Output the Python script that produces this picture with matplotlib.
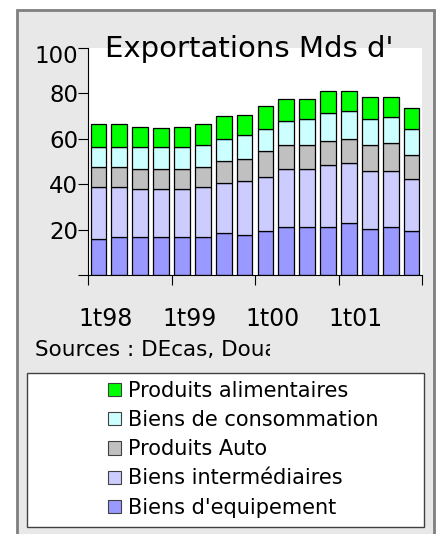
import matplotlib
matplotlib.use("Agg")
import matplotlib.pyplot as plt
from matplotlib.patches import Rectangle, Patch
from matplotlib.transforms import Bbox, TransformedBbox, ScaledTranslation
import numpy as np

quarters = [f"q{i}" for i in range(16)]
tick_labels = ["1t98", "1t99", "1t00", "1t01"]
series_names = ["Biens d'equipement", "Biens intermédiaires", "Produits Auto",
                "Biens de consommation", "Produits alimentaires"]
equipement = [15.9, 16.6, 16.6, 16.6, 16.6, 16.6, 18.4, 17.5, 19.4, 21.0, 21.0, 21.0, 22.8, 20.1, 21.0, 19.4]
intermediaires = [22.8, 22.1, 21.2, 21.2, 21.2, 22.1, 22.2, 23.8, 23.7, 25.6, 25.6, 27.5, 26.5, 25.6, 24.7, 22.8]
auto = [8.9, 8.9, 9.0, 9.0, 9.0, 8.9, 9.5, 9.7, 11.6, 10.8, 10.8, 10.6, 10.7, 11.7, 12.4, 10.7]
consommation = [8.9, 8.9, 9.7, 9.7, 9.7, 9.6, 9.8, 10.6, 9.7, 10.5, 11.3, 12.2, 12.2, 11.3, 11.6, 11.5]
alimentaires = [10.0, 10.0, 8.9, 8.2, 8.9, 9.3, 10.0, 9.1, 9.9, 9.6, 8.8, 9.9, 9.0, 9.5, 8.5, 9.1]
colors = ["#9999ff", "#ccccff", "#c0c0c0", "#ccffff", "#00ff00"]

W, H = 438, 534
fig = plt.figure(figsize=(W / 100, H / 100), dpi=100)
fig.patch.set_facecolor("white")

# outer frame
frame = Rectangle((17 / W, -0.05), (434 - 17) / W, (1 - 10 / H) + 0.05,
                  transform=fig.transFigure, facecolor="#e8e8e8",
                  edgecolor="#7f7f7f", linewidth=2, zorder=-5)
fig.patches.append(frame)

ax = fig.add_axes([88 / W, 1 - 275 / H, (422 - 88) / W, (275 - 48) / H])
ax.set_zorder(2)
ax.set_facecolor("white")

x = np.arange(len(quarters)) + 0.5
bottom = np.zeros(len(quarters))
for vals, col in zip([equipement, intermediaires, auto, consommation, alimentaires], colors):
    ax.bar(x, vals, width=0.75, bottom=bottom, color=col, edgecolor="black", linewidth=0.9)
    bottom += np.array(vals)

ax.set_xlim(0, 16)
ax.set_ylim(0, 100)
for s in ["top", "right"]:
    ax.spines[s].set_visible(False)
ax.spines["left"].set_linewidth(0.8)
ax.spines["bottom"].set_linewidth(0.8)

ax.set_yticks([0, 20, 40, 60, 80, 100])
ax.set_yticklabels(["", "20", "40", "60", "80", "100"], fontsize=16.5)
ax.tick_params(axis="y", length=7, width=0.8, pad=0)
lab100 = ax.get_yticklabels()[-1]
lab100.set_transform(lab100.get_transform() + ScaledTranslation(0, -6 / 100, fig.dpi_scale_trans))
ax.set_xticks([0, 4, 8, 12, 16])
ax.set_xticklabels([])
ax.tick_params(axis="x", which="major", length=7, width=0.8)
ax.set_xticks([0.85, 4.85, 8.85, 12.8], minor=True)
ax.set_xticklabels(tick_labels, minor=True, fontsize=17)
ax.tick_params(axis="x", which="minor", length=0, pad=23)

t = fig.text(105 / W, 1 - 57 / H, "Exportations Mds d'", fontsize=21, va="baseline", ha="left")
t.set_zorder(10)

src = fig.text(35 / W, 1 - 350 / H, "Sources : DEcas, Douanes", fontsize=15.5, va="center", ha="left")
src.set_clip_box(TransformedBbox(Bbox([[0, 0], [270 / W, 1]]), fig.transFigure))
src.set_clip_on(True)

# legend box
lbox = Rectangle((27 / W, 1 - 527 / H), (424 - 27) / W, (527 - 373) / H,
                 transform=fig.transFigure, facecolor="white",
                 edgecolor="#404040", linewidth=1, zorder=1)
fig.patches.append(lbox)
handles = [Patch(facecolor=c, edgecolor="#404040", linewidth=0.8) for c in colors][::-1]
leg = fig.legend(handles, series_names[::-1], loc="upper left",
                 bbox_to_anchor=(108 / W, 1 - 381 / H), frameon=False, fontsize=15,
                 handlelength=0.6, handleheight=0.6, handletextpad=0.35,
                 labelspacing=0.44, borderpad=0, borderaxespad=0)
leg.set_zorder(5)

fig.savefig("out.png", dpi=100, facecolor=fig.get_facecolor())
